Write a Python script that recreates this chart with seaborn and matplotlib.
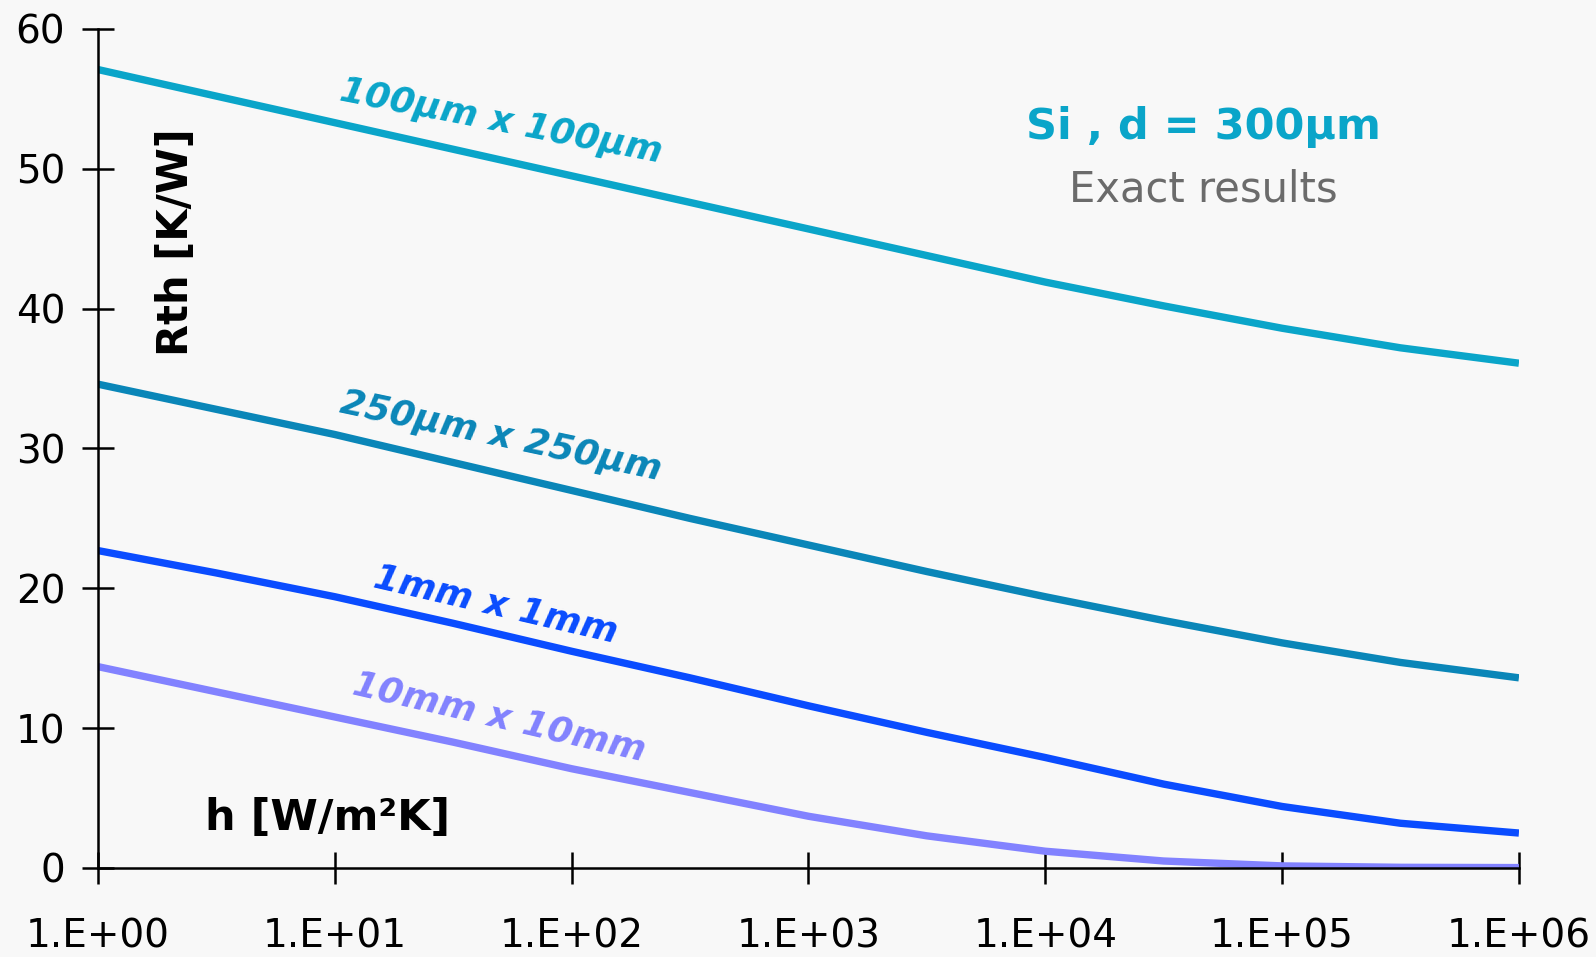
import numpy as np
import pandas as pd
import matplotlib
matplotlib.use('Agg')
import matplotlib.pyplot as plt
from matplotlib.ticker import FixedLocator, FuncFormatter, NullLocator
import seaborn as sns

# heat transfer coefficient h [W/m2K], half-decade steps
h_values = [1, 3.16, 10, 31.6, 100, 316, 1e3, 3.16e3, 1e4, 3.16e4, 1e5, 3.16e5, 1e6]

# Rth [K/W]
rth_100um = [57.1, 55.2, 53.3, 51.4, 49.5, 47.6, 45.7, 43.8, 41.9, 40.2, 38.6, 37.2, 36.1]
rth_250um = [34.6, 32.8, 31.0, 29.0, 27.0, 25.0, 23.1, 21.2, 19.4, 17.7, 16.1, 14.7, 13.6]
rth_1mm = [22.7, 21.1, 19.4, 17.5, 15.5, 13.6, 11.6, 9.7, 7.9, 6.0, 4.4, 3.2, 2.5]
rth_10mm = [14.4, 12.6, 10.8, 9.0, 7.1, 5.4, 3.7, 2.3, 1.2, 0.5, 0.15, 0.05, 0.03]

series_names = ['100µm x 100µm', '250µm x 250µm', '1mm x 1mm', '10mm x 10mm']
series_colors = ['#0aa5c9', '#0a86b8', '#0a4cff', '#8282ff']
y_ticks = [0, 10, 20, 30, 40, 50, 60]
x_ticks = [1, 1e1, 1e2, 1e3, 1e4, 1e5, 1e6]

df = pd.DataFrame({
    'h': h_values * 4,
    'Rth': rth_100um + rth_250um + rth_1mm + rth_10mm,
    'size': np.repeat(series_names, len(h_values)),
})

bg = '#f8f8f8'
sns.set_style('ticks')
plt.rcParams['font.family'] = ['DejaVu Sans']
plt.rcParams['text.color'] = 'black'

fig = plt.figure(figsize=(15.96, 9.57), dpi=100, facecolor=bg)
ax = fig.add_axes([0.0614, 0.0930, 0.8903, 0.8767])
ax.set_facecolor(bg)

sns.lineplot(data=df, x='h', y='Rth', hue='size', palette=series_colors,
             hue_order=series_names, linewidth=5.3, legend=False, ax=ax)
for ln in ax.lines:
    ln.set_solid_joinstyle('round')
    ln.set_solid_capstyle('butt')

ax.set_xscale('log')
ax.set_xlim(1, 1e6)
ax.set_ylim(0, 60)
ax.xaxis.set_major_locator(FixedLocator(x_ticks))
ax.xaxis.set_minor_locator(NullLocator())
ax.xaxis.set_major_formatter(FuncFormatter(lambda v, p: f"1.E+{int(round(np.log10(v))):02d}"))
ax.set_yticks(y_ticks)

sns.despine(ax=ax)
for s in ['left', 'bottom']:
    ax.spines[s].set_linewidth(1.8)
    ax.spines[s].set_color('black')
ax.tick_params(axis='both', direction='inout', length=23, width=1.8,
               labelsize=28, colors='black')
ax.tick_params(axis='y', pad=12)
ax.tick_params(axis='x', pad=24)
ax.set_xlabel('')
ax.set_ylabel('')

# axis titles placed inside the plot area
fig.text(176 / 1596, 1 - 242 / 957, 'Rth [K/W]', rotation=90, fontsize=30,
         fontweight='bold', ha='center', va='center')
fig.text(328 / 1596, 1 - 818 / 957, 'h [W/m²K]', fontsize=31,
         fontweight='bold', ha='center', va='center')

# curve labels
label_pos = [(501, 122, -11), (501, 436, -12), (496, 605, -13), (499, 717, -13)]
for name, col, (px, py, rot) in zip(series_names, series_colors, label_pos):
    fig.text(px / 1596, 1 - py / 957, name, color=col, fontsize=26,
             fontweight='bold', fontstyle='italic', rotation=rot,
             ha='center', va='center', rotation_mode='anchor')

fig.text(1203 / 1596, 1 - 127 / 957, 'Si , d = 300µm', color=series_colors[0],
         fontsize=31, fontweight='bold', ha='center', va='center')
fig.text(1203 / 1596, 1 - 189 / 957, 'Exact results', color='#6b6b6b',
         fontsize=30, ha='center', va='center')

fig.savefig('out.png', dpi=100, facecolor=bg)
